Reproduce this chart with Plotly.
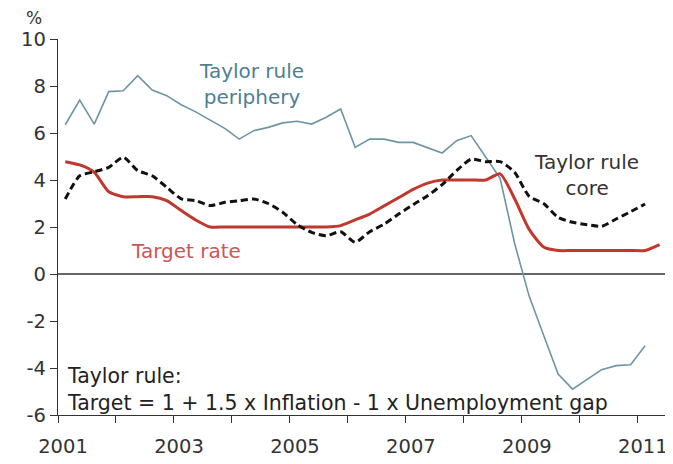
import plotly.graph_objects as go

# Quarterly observations, 2001Q1 onwards (x = mid-quarter)
quarters = [2001.125 + 0.25 * k for k in range(42)]

periphery = [6.35, 7.4, 6.38, 7.76, 7.8, 8.44, 7.83, 7.59,
             7.2, 6.9, 6.55, 6.2, 5.74, 6.1, 6.24, 6.43,
             6.5, 6.38, 6.67, 7.02, 5.39, 5.74, 5.74, 5.6,
             5.6, 5.36, 5.15, 5.67, 5.89, 4.98, 4.07, 1.3,
             -0.94, -2.61, -4.26, -4.9, -4.47, -4.07, -3.9, -3.86,
             -3.05]

core = [3.19, 4.18, 4.35, 4.54, 4.97, 4.4, 4.18, 3.69,
        3.2, 3.12, 2.91, 3.05, 3.12, 3.19, 3.0, 2.63,
        2.1, 1.77, 1.63, 1.8, 1.35, 1.8, 2.12, 2.55,
        2.95, 3.33, 3.8, 4.4, 4.89, 4.78, 4.78, 4.33,
        3.3, 3.0, 2.41, 2.2, 2.1, 2.03, 2.34, 2.65,
        2.98]

target = [4.78, 4.64, 4.33, 3.5, 3.29, 3.29, 3.29, 3.12,
          2.7, 2.3, 2.0, 2.0, 2.0, 2.0, 2.0, 2.0,
          2.0, 2.0, 2.0, 2.06, 2.3, 2.55, 2.9, 3.25,
          3.6, 3.87, 4.0, 4.0, 4.0, 4.0, 4.26, 3.2,
          1.9, 1.15, 1.0, 1.0, 1.0, 1.0, 1.0, 1.0,
          1.0, 1.25]

tick_years = list(range(2001, 2012))
tick_labels = [str(y) if (y - 2001) % 2 == 0 else "" for y in tick_years]
y_ticks = [-6, -4, -2, 0, 2, 4, 6, 8, 10]
y_labels = ["-6", "-4", "-2", "0", "2", "4", "6", "8", "10"]

FONT = "DejaVu Sans"
PERI_C = "#6d95a5"
CORE_C = "#111111"
TARGET_C = "#c0392f"

# page body has an 8px offset; compensate so the plot area sits at page 58..668 x 39..415
OFF = 8
W, H = 665, 456
L, T = 58 - OFF, 39 - OFF
pw, ph = 610, 376
R = W - L - pw
B = H - T - ph


def px_to_paper(px, py):
    # px, py in page pixels
    return (px - 58) / pw, 1 - (py - 39) / ph


fig = go.Figure()
fig.add_trace(go.Scatter(x=quarters[:len(periphery)], y=periphery, mode="lines",
                         line=dict(color=PERI_C, width=1.6), showlegend=False))
fig.add_trace(go.Scatter(x=quarters[:len(target)], y=target, mode="lines",
                         line=dict(color=TARGET_C, width=3, shape="spline", smoothing=0.6),
                         showlegend=False))
fig.add_trace(go.Scatter(x=quarters[:len(core)], y=core, mode="lines",
                         line=dict(color=CORE_C, width=3, dash="7px,4px", shape="spline", smoothing=0.6),
                         showlegend=False))

fig.add_hline(y=0, line=dict(color="#333333", width=1.3), layer="below")

labels = [
    (251, 84, "Taylor rule<br>periphery", "#4f7f92", "center", "center", 20),
    (586, 175, "Taylor rule<br>core", "#333333", "center", "center", 20),
    (186, 251, "Target rate", "#cc5555", "center", "center", 20),
    (65, 389, "Taylor rule:<br>Target = 1 + 1.5 x Inflation - 1 x Unemployment gap", "#222222", "left", "left", 20.5),
    (34, 18, "%", "#333333", "center", "center", 17),
]
for px, py, txt, col, align, xanchor, fs in labels:
    ax, ay = px_to_paper(px, py)
    fig.add_annotation(x=ax, y=ay, xref="paper", yref="paper", text=txt, showarrow=False,
                       font=dict(family=FONT, size=fs, color=col), align=align, xanchor=xanchor,
                       yanchor="middle")

fig.update_layout(
    width=W, height=H,
    margin=dict(l=L, r=R, t=T, b=B, autoexpand=False),
    paper_bgcolor="white", plot_bgcolor="white",
    font=dict(family=FONT, size=19.5, color="#333333"),
    xaxis=dict(range=[2001, 2011.52], tickvals=tick_years, ticktext=tick_labels,
               ticks="outside", ticklen=7, tickcolor="#333333", tickwidth=1.3,
               showline=True, linecolor="#333333", linewidth=1.3, showgrid=False,
               zeroline=False, tickfont=dict(size=19.5), automargin=False,
               ticklabelshift=5, ticklabelstandoff=6),
    yaxis=dict(range=[-6, 10], tickvals=y_ticks, ticktext=y_labels,
               ticks="outside", ticklen=7,
               tickcolor="#333333", tickwidth=1.3, showline=True, linecolor="#333333",
               linewidth=1.3, showgrid=False, zeroline=False, tickfont=dict(size=19.5),
               automargin=False),
)

fig.write_html("out.html")
